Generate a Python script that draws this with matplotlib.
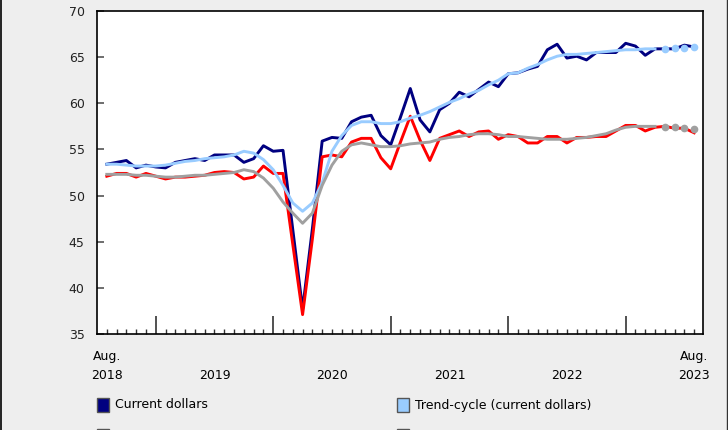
import matplotlib
matplotlib.use("Agg")
import matplotlib.pyplot as plt
from matplotlib.patches import Rectangle
from matplotlib.lines import Line2D
import numpy as np

# monthly values, Aug. 2018 .. Aug. 2023
current_dollars = [53.4, 53.6, 53.8, 53.0, 53.3, 53.1, 53.0, 53.6, 53.8, 54.0,
                   53.8, 54.4, 54.4, 54.4, 53.6, 54.0, 55.4, 54.8, 54.9, 46.3,
                   37.7, 46.4, 55.9, 56.3, 56.2, 58.0, 58.5, 58.7, 56.5, 55.5,
                   58.5, 61.6, 58.2, 56.9, 59.3, 60.0, 61.2, 60.7, 61.5, 62.3,
                   61.8, 63.2, 63.3, 63.7, 64.0, 65.8, 66.4, 64.9, 65.1, 64.7,
                   65.5, 65.5, 65.5, 66.5, 66.2, 65.2, 65.9, 65.9, 65.9, 66.3,
                   66.1]
trend_current = [53.4, 53.4, 53.3, 53.2, 53.2, 53.2, 53.3, 53.5, 53.7, 53.8,
                 54.0, 54.1, 54.2, 54.4, 54.8, 54.6, 53.9, 52.8, 51.1, 49.2,
                 48.3, 49.2, 51.4, 54.8, 56.5, 57.6, 58.0, 58.0, 57.8, 57.8,
                 58.0, 58.4, 58.7, 59.1, 59.6, 60.1, 60.5, 61.0, 61.4, 62.0,
                 62.5, 63.2, 63.3, 63.8, 64.2, 64.7, 65.1, 65.3, 65.3, 65.4,
                 65.5, 65.6, 65.7, 65.8, 65.8, 65.9, 65.9, 65.9, 66.0, 66.0,
                 66.1]
chained_dollars = [52.1, 52.4, 52.4, 52.0, 52.4, 52.1, 51.8, 52.0, 52.0, 52.1,
                   52.2, 52.5, 52.6, 52.5, 51.8, 52.0, 53.2, 52.4, 52.4, 44.7,
                   37.1, 45.3, 54.2, 54.4, 54.2, 55.8, 56.2, 56.2, 54.1, 52.9,
                   55.8, 58.6, 56.0, 53.8, 56.2, 56.6, 57.0, 56.4, 56.9, 57.0,
                   56.1, 56.6, 56.4, 55.7, 55.7, 56.4, 56.4, 55.7, 56.3, 56.3,
                   56.4, 56.4, 57.0, 57.6, 57.6, 57.0, 57.4, 57.5, 57.3, 57.3,
                   56.8]
trend_chained = [52.3, 52.3, 52.3, 52.2, 52.2, 52.1, 52.0, 52.0, 52.1, 52.2,
                 52.2, 52.3, 52.4, 52.5, 52.8, 52.6, 51.9, 50.8, 49.3, 48.1,
                 47.0, 48.1, 51.1, 53.3, 54.8, 55.5, 55.7, 55.5, 55.3, 55.3,
                 55.4, 55.6, 55.7, 55.8, 56.1, 56.3, 56.4, 56.6, 56.7, 56.7,
                 56.6, 56.4, 56.4, 56.3, 56.2, 56.1, 56.1, 56.1, 56.2, 56.3,
                 56.5, 56.7, 57.1, 57.4, 57.5, 57.5, 57.5, 57.4, 57.4, 57.3,
                 57.2]

year_labels = ["2019", "2020", "2021", "2022"]
year_pos = [11, 23, 35, 47]
jan_pos = [5, 17, 29, 41, 53]
n_dotted = 4  # last months of trend-cycle drawn as dots

navy = "#000080"
lblue = "#99ccff"
red = "#ff0000"
grey = "#a0a0a0"
bg = "#eeeeee"

fig = plt.figure(figsize=(7.28, 4.30), dpi=100, facecolor=bg)
ax = fig.add_axes([97 / 728, 1 - 334 / 430, 606 / 728, 323 / 430])
ax.set_facecolor("white")

x = np.arange(len(current_dollars))
cut = len(x) - n_dotted

ax.plot(x, current_dollars, color=navy, lw=2.1, zorder=3)
ax.plot(x, chained_dollars, color=red, lw=2.1, zorder=4)
ax.plot(x[:cut], trend_current[:cut], color=lblue, lw=2.1, zorder=5)
ax.plot(x[cut - 1:], trend_current[cut - 1:], color=lblue, lw=0, marker="o",
        ms=4.5, markevery=list(range(1, n_dotted + 1)), zorder=5)
ax.plot(x[:cut], trend_chained[:cut], color=grey, lw=2.1, zorder=6)
ax.plot(x[cut - 1:], trend_chained[cut - 1:], color=grey, lw=0, marker="o",
        ms=4.5, markevery=list(range(1, n_dotted + 1)), zorder=6)

ax.set_xlim(-1, len(x) - 0.1)
ax.set_ylim(35, 70)
ax.set_yticks(range(35, 71, 5))
ax.tick_params(axis="y", direction="in", length=5, width=1.2, color="#555555",
               pad=9, labelsize=9, labelcolor="#222222")

ax.set_xticks(jan_pos)
ax.set_xticks(x, minor=True)
ax.set_xticklabels([])
ax.tick_params(axis="x", which="major", direction="in", length=13, width=1.2,
               color="#333333")
ax.tick_params(axis="x", which="minor", direction="in", length=3.6, width=1,
               color="#333333")
for s in ax.spines.values():
    s.set_color("black")
    s.set_linewidth(1.2)

trans = ax.get_xaxis_transform()
ax.text(0, -0.07, "Aug.", ha="center", va="center", fontsize=9, transform=trans)
ax.text(0, -0.127, "2018", ha="center", va="center", fontsize=9, transform=trans)
ax.text(x[-1], -0.07, "Aug.", ha="center", va="center", fontsize=9, transform=trans)
ax.text(x[-1], -0.127, "2023", ha="center", va="center", fontsize=9, transform=trans)
for p, lab in zip(year_pos, year_labels):
    ax.text(p, -0.127, lab, ha="center", va="center", fontsize=9, transform=trans)

# legend: the second row sits below the picture edge, only its boxes' tops show
legend_items = [("Current dollars", navy, 97, 405),
                ("Trend-cycle (current dollars)", lblue, 397, 405),
                ("Chained (2012) dollars", red, 97, 436),
                ("Trend-cycle (chained (2012) dollars)", grey, 397, 436)]
for lab, col, px, py in legend_items:
    fig.patches.append(Rectangle((px / 728, 1 - (py + 7) / 430), 12 / 728, 14 / 430,
                                 transform=fig.transFigure, facecolor=col,
                                 edgecolor="#555555", lw=1))
    if py < 430:
        fig.text((px + 18) / 728, 1 - py / 430, lab, ha="left", va="center",
                 fontsize=9)
    else:
        fig.text((px + 18) / 728, 1 - (py - 5) / 430, lab, ha="left", va="top",
                 fontsize=9)

# outer frame edges
fig.add_artist(Line2D([0.7 / 728, 0.7 / 728], [0, 1], color="black", lw=1.2,
                      transform=fig.transFigure))
fig.add_artist(Line2D([726.5 / 728, 726.5 / 728], [0, 1], color="#333333", lw=1,
                      transform=fig.transFigure))

fig.savefig("out.png", dpi=100, facecolor=bg)
